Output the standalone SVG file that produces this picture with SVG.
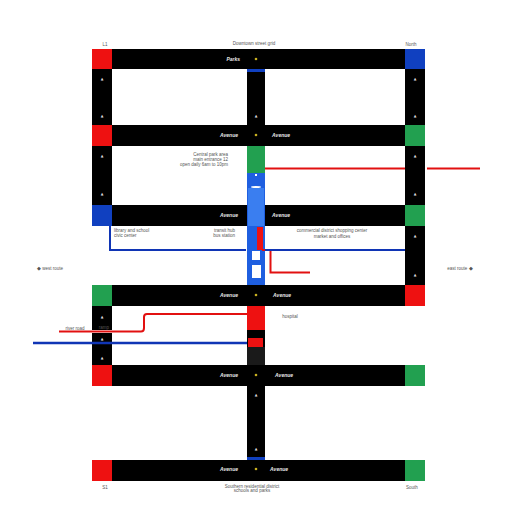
<svg xmlns="http://www.w3.org/2000/svg" width="512" height="512" viewBox="0 0 512 512">
<style>
.road{fill:#000}
.red{fill:#ee1111}
.grn{fill:#22a050}
.blu{fill:#1040c0}
.lbl{font-family:"Liberation Sans",Arial,sans-serif;font-size:5px;font-weight:bold;font-style:italic;fill:#e8e8e8}
.note{font-family:"Liberation Sans",Arial,sans-serif;font-size:4.5px;fill:#555}
.ico{font-family:"DejaVu Sans",sans-serif;font-size:3.5px;fill:#ddd;text-anchor:middle}
.dot{fill:#c8b020}
</style>
<rect width="512" height="512" fill="#fff"/>
<g id="streets">
  <rect class="road" x="92" y="49" width="333" height="20"/>
  <rect class="road" x="92" y="125" width="333" height="21"/>
  <rect class="road" x="92" y="205" width="333" height="21"/>
  <rect class="road" x="92" y="285" width="333" height="21"/>
  <rect class="road" x="92" y="365" width="333" height="21"/>
  <rect class="road" x="92" y="460" width="333" height="21"/>
  <rect class="road" x="92" y="69" width="20" height="56"/>
  <rect class="road" x="247" y="69" width="18" height="56"/>
  <rect class="road" x="405" y="69" width="20" height="56"/>
  <rect class="road" x="92" y="146" width="20" height="59"/>
  <rect class="road" x="405" y="146" width="20" height="59"/>
  <rect class="road" x="405" y="226" width="20" height="59"/>
  <rect class="road" x="92" y="306" width="20" height="59"/>
  <rect class="road" x="247" y="306" width="18" height="59"/>
  <rect class="road" x="247" y="386" width="18" height="74"/>
  <rect fill="#1a1a1a" x="247" y="347" width="18" height="18"/>
  <rect fill="#fff" x="92" y="330" width="20" height="3"/>
</g>
<g id="middle-column">
  <rect class="blu" x="247" y="69" width="18" height="3"/>
  <rect class="grn" x="247" y="146" width="18" height="27"/>
  <rect fill="#1f5fe0" x="247" y="173" width="18" height="112"/>
  <rect fill="#3a7ef0" x="248" y="188" width="16" height="38"/>
  <rect fill="#fff" x="252" y="251" width="8" height="9"/>
  <rect fill="#fff" x="252" y="265" width="9" height="13"/>
  <rect class="red" x="257" y="227" width="6" height="23"/>
  <rect class="red" x="247" y="306" width="18" height="24"/>
  <rect class="red" x="248" y="338" width="15" height="9"/>
  <rect class="blu" x="247" y="457" width="18" height="3"/>
  <ellipse cx="256" cy="187" rx="5" ry="1" fill="#fff"/>
  <rect x="255" y="174" width="2" height="2" fill="#fff"/>
  <rect x="254" y="187" width="5" height="1" fill="#fff"/>
</g>
<g id="corners">
  <rect class="red" x="92" y="49" width="20" height="20"/>
  <rect class="blu" x="405" y="49" width="20" height="20"/>
  <rect class="red" x="92" y="125" width="20" height="21"/>
  <rect class="grn" x="405" y="125" width="20" height="21"/>
  <rect class="blu" x="92" y="205" width="20" height="21"/>
  <rect class="grn" x="405" y="205" width="20" height="21"/>
  <rect class="grn" x="92" y="285" width="20" height="21"/>
  <rect class="red" x="405" y="285" width="20" height="21"/>
  <rect class="red" x="92" y="365" width="20" height="21"/>
  <rect class="grn" x="405" y="365" width="20" height="21"/>
  <rect class="red" x="92" y="460" width="20" height="21"/>
  <rect class="grn" x="405" y="460" width="20" height="21"/>
</g>
<g id="connectors" fill="none" stroke-width="2">
  <path d="M265 168.5H405M427 168.5H480" stroke="#e21010"/>
  <path d="M262 250H270.5V272.5H310" stroke="#e21010"/>
  <path d="M110 226V250H246M265 250H405" stroke="#1035b5"/>
  <path d="M59 331.5H141Q144 331.5 144 328V317Q144 314 147 314H247" stroke="#e21010"/>
  <path d="M33 343H247" stroke="#1035b5" stroke-width="2.5"/>
</g>
<g id="labels">
  <text class="lbl" x="240" y="61" text-anchor="end">Parks</text>
  <circle class="dot" cx="256" cy="59" r="1.3"/>
  <text class="lbl" x="238" y="137" text-anchor="end">Avenue</text>
  <circle class="dot" cx="256" cy="135" r="1.3"/>
  <text class="lbl" x="272" y="137">Avenue</text>
  <text class="lbl" x="238" y="217" text-anchor="end">Avenue</text>
  <text class="lbl" x="272" y="217">Avenue</text>
  <text class="lbl" x="238" y="297" text-anchor="end">Avenue</text>
  <circle class="dot" cx="256" cy="295" r="1.3"/>
  <text class="lbl" x="273" y="297">Avenue</text>
  <text class="lbl" x="238" y="377" text-anchor="end">Avenue</text>
  <circle class="dot" cx="256" cy="375" r="1.3"/>
  <text class="lbl" x="275" y="377">Avenue</text>
  <text class="lbl" x="238" y="471" text-anchor="end">Avenue</text>
  <circle class="dot" cx="256" cy="469" r="1.3"/>
  <text class="lbl" x="270" y="471">Avenue</text>
</g>
<g id="icons">
  <text class="ico" x="102" y="80">▲</text><text class="ico" x="102" y="117">▲</text>
  <text class="ico" x="256" y="117">▲</text>
  <text class="ico" x="415" y="80">▲</text><text class="ico" x="415" y="117">▲</text>
  <text class="ico" x="102" y="157">▲</text><text class="ico" x="102" y="195">▲</text>
  <text class="ico" x="415" y="157">▲</text><text class="ico" x="415" y="195">▲</text>
  <text class="ico" x="415" y="237">▲</text><text class="ico" x="415" y="276">▲</text>
  <text class="ico" x="102" y="318">▲</text><text class="ico" x="102" y="340">▲</text><text class="ico" x="102" y="359">▲</text>
  <text class="ico" x="256" y="396">▲</text><text class="ico" x="256" y="450">▲</text>
</g>
<g id="notes">
  <text class="note" x="105" y="46" text-anchor="middle">L1</text>
  <text class="note" x="254" y="45" text-anchor="middle">Downtown street grid</text>
  <text class="note" x="411" y="46" text-anchor="middle">North</text>
  <text class="note" x="228" y="156" text-anchor="end">Central park area</text>
  <text class="note" x="228" y="161" text-anchor="end">main entrance 12</text>
  <text class="note" x="228" y="166" text-anchor="end">open daily 6am to 10pm</text>
  <text class="note" x="114" y="232">library and school</text>
  <text class="note" x="114" y="237">civic center</text>
  <text class="note" x="235" y="232" text-anchor="end">transit hub</text>
  <text class="note" x="235" y="237" text-anchor="end">bus station</text>
  <text class="note" x="332" y="232" text-anchor="middle">commercial district shopping center</text>
  <text class="note" x="332" y="238" text-anchor="middle">market and offices</text>
  <text class="note" x="50" y="270" text-anchor="middle">◆ west route</text>
  <text class="note" x="460" y="270" text-anchor="middle">east route ◆</text>
  <text class="note" x="290" y="318" text-anchor="middle">hospital</text>
  <text class="note" x="75" y="330" text-anchor="middle">river road</text>
  <text class="note" x="104" y="329" text-anchor="middle">ramp</text>
  <text class="note" x="105" y="489" text-anchor="middle">S1</text>
  <text class="note" x="252" y="488" text-anchor="middle">Southern residential district</text>
  <text class="note" x="252" y="492" text-anchor="middle">schools and parks</text>
  <text class="note" x="412" y="489" text-anchor="middle">South</text>
</g>
</svg>
